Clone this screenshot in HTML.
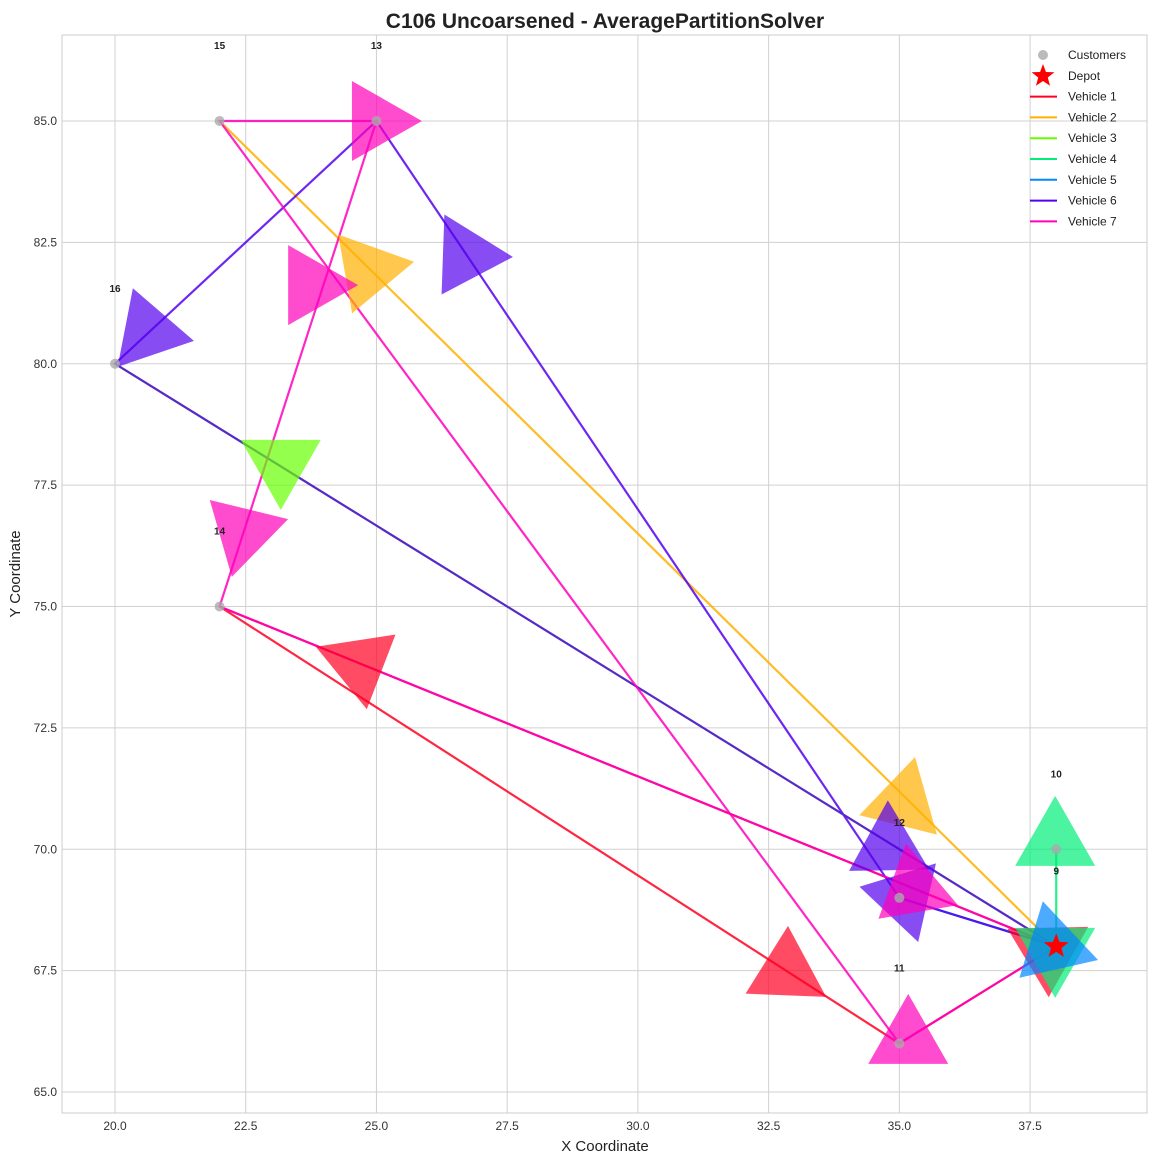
<!DOCTYPE html>
<html><head><meta charset="utf-8"><style>
body{margin:0;background:#fff;font-family:"Liberation Sans","DejaVu Sans",sans-serif;}
svg text{font-family:"Liberation Sans","DejaVu Sans",sans-serif;}
</style></head><body>
<svg id="chart" width="1157" height="1163" viewBox="0 0 1157 1163" xmlns="http://www.w3.org/2000/svg">
<rect x="0" y="0" width="1157" height="1163" fill="#fff"/>
<text x="605" y="28" text-anchor="middle" font-size="21" font-weight="bold" fill="#222">C106 Uncoarsened - AveragePartitionSolver</text>
<text x="605" y="1151" text-anchor="middle" font-size="15" fill="#222">X Coordinate</text>
<text x="20" y="574" text-anchor="middle" font-size="15" fill="#222" transform="rotate(-90 20 574)">Y Coordinate</text>
<g id="grid"></g><g id="routes"></g><g id="arrows"></g><g id="points"></g><g id="legend"></g>
<rect x="62" y="35" width="1085" height="1078" fill="none" stroke="#ccc" stroke-width="1"/>
</svg>
<script>
const xTicks=[20,22.5,25,27.5,30,32.5,35,37.5];
const yTicks=[65,67.5,70,72.5,75,77.5,80,82.5,85];
const depot=[38,68];
const customerIds=[15,13,16,14,11,10,9,12];
const customerX=[22,25,20,22,35,38,38,35];
const customerY=[85,85,80,75,66,70,68,69];
const vehicleNames=["Vehicle 1","Vehicle 2","Vehicle 3","Vehicle 4","Vehicle 5","Vehicle 6","Vehicle 7"];
const vehicleColors=["#ff0022","#ffb000","#66ff00","#00ee77","#0088ff","#5500ee","#ff00bb"];
const routeX=[[38,22,35,38],[38,22,38],[38,20,38],[38,38,38],[38,35,38],[38,20,25,35,38],[38,22,25,22,35,38]];
const routeY=[[68,75,66,68],[68,85,68],[68,80,68],[68,70,68],[68,69,68],[68,80,85,69,68],[68,75,85,85,66,68]];
const arrowVeh=[0,0,0,1,1,2,6,6,6,5,5,5,5,6,3,3,4,6];
const arrowX=[33.6,23.84,38.61,25.72,35.3,23.17,23.31,24.65,25.87,21.51,27.61,34.78,35.36,36.12,37.98,37.98,38.8,35.17];
const arrowY=[66.96,74.17,68.4,82.1,71.9,76.99,76.8,81.62,85,80.47,82.2,71.01,68.09,68.85,71.1,66.94,67.72,67.02];
const arrowAngle=[32,201,-31,-10,-76,90,-16,0,0,11,2,-91,73,20,-90,90,17,-90];

const NS="http://www.w3.org/2000/svg";
const L=62,R=1147,T=35,B=1113;
const sx=v=>115+(v-20)*52.29;
const sy=v=>1092-(v-65)*48.55;
function mk(tag,attrs,parent){const e=document.createElementNS(NS,tag);for(const k in attrs)e.setAttribute(k,attrs[k]);parent.appendChild(e);return e;}
const grid=document.getElementById('grid');
xTicks.forEach(t=>{
  const l=mk('line',{x1:sx(t),x2:sx(t),y1:T,y2:B,stroke:'#d0d0d0','stroke-width':1},grid);
  
  
  const tx=mk('text',{x:sx(t),y:B+17,'text-anchor':'middle','font-size':12,fill:'#333'},grid);
  tx.textContent=t.toFixed(1);
  
  
});
yTicks.forEach(t=>{
  const l=mk('line',{x1:L,x2:R,y1:sy(t),y2:sy(t),stroke:'#d0d0d0','stroke-width':1},grid);
  
  
  const tx=mk('text',{x:L-5,y:sy(t)+4,'text-anchor':'end','font-size':12,fill:'#333'},grid);
  tx.textContent=t.toFixed(1);
  
  
});
const routes=document.getElementById('routes');
routeX.forEach((xs,i)=>{
  const pts=xs.map((x,j)=>sx(x)+','+sy(routeY[i][j])).join(' ');
  const p=mk('polyline',{points:pts,fill:'none',stroke:vehicleColors[i],'stroke-width':2.2,'stroke-opacity':0.85},routes);
  
  
});
const arrows=document.getElementById('arrows');
arrowX.forEach((x,i)=>{
  const tx=sx(x),ty=sy(arrowY[i]);const a=arrowAngle[i]*Math.PI/180;
  const len=70,w=40;const dx=Math.cos(a),dy=Math.sin(a);
  const bx=tx-dx*len,by=ty-dy*len;
  const pts=[[tx,ty],[bx-dy*w,by+dx*w],[bx+dy*w,by-dx*w]].map(p=>p.join(',')).join(' ');
  const p=mk('polygon',{points:pts,fill:vehicleColors[arrowVeh[i]],'fill-opacity':0.7},arrows);
  
  
});
const pg=document.getElementById('points');
customerX.forEach((x,i)=>{
  const c=mk('circle',{cx:sx(x),cy:sy(customerY[i]),r:5,fill:'#aaa','fill-opacity':0.8},pg);
  
  
  const t=mk('text',{x:sx(x),y:sy(customerY[i])-72,'text-anchor':'middle','font-size':10,'font-weight':'bold',fill:'#222'},pg);
  t.textContent=customerIds[i];
  
  
});
function star(cx,cy,ro,ri){let s=[];for(let k=0;k<10;k++){const r=k%2?ri:ro;const a=-Math.PI/2+k*Math.PI/5;s.push((cx+r*Math.cos(a))+','+(cy+r*Math.sin(a)));}return s.join(' ');}
const dp=mk('polygon',{points:star(sx(depot[0]),sy(depot[1]),13,5.5),fill:'#ff0000'},pg);


const lg=document.getElementById('legend');
const lgc=mk('circle',{cx:1043,cy:55,r:5,fill:'#aaa','fill-opacity':0.8},lg);


const lgs=mk('polygon',{points:star(1043,76,12,5),fill:'#ff0000'},lg);


["Customers","Depot"].concat(vehicleNames).forEach((n,i)=>{
  const y=55+i*20.8;
  if(i>=2){const l=mk('line',{x1:1030,x2:1057,y1:y,y2:y,stroke:vehicleColors[i-2],'stroke-width':2},lg);
    
    }
  const t=mk('text',{x:1068,y:y+4,'font-size':12,fill:'#222'},lg);
  t.textContent=n;
  
  
});
</script>
</body></html>
